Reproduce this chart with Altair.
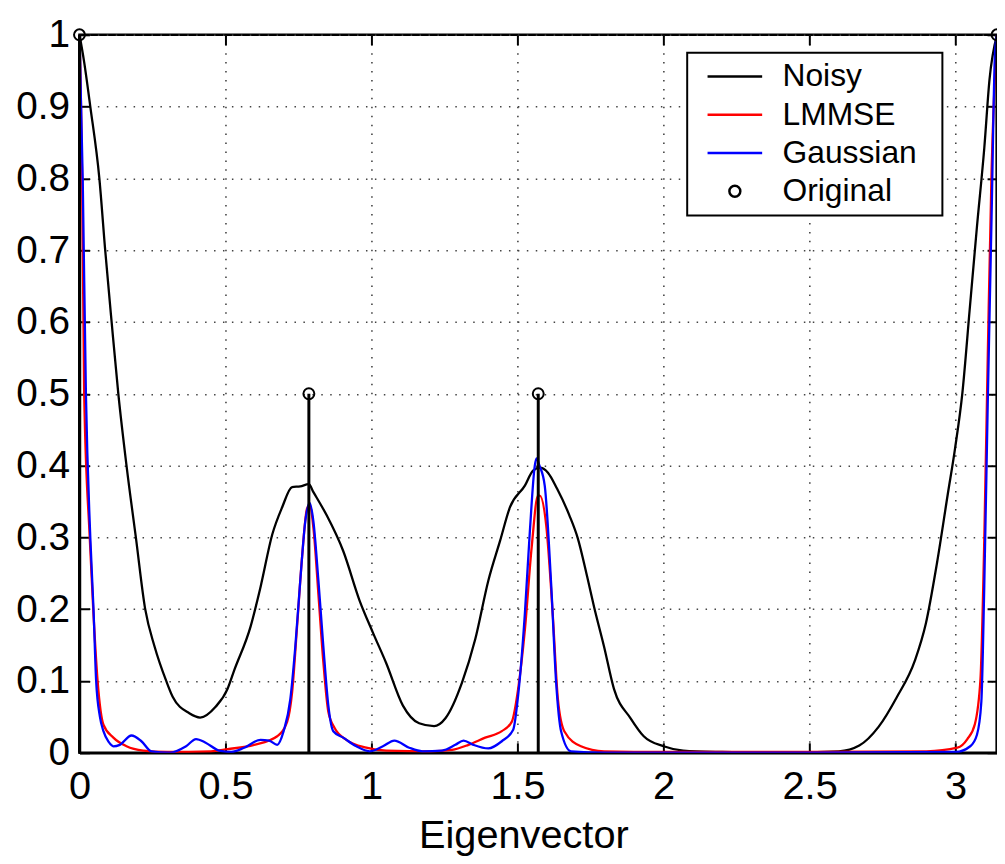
import altair as alt
import pandas as pd

PI = 3.14159

# ---- series ----
NOISY_X = [0.0, 0.016, 0.037, 0.068, 0.088, 0.110, 0.133, 0.161, 0.193, 0.225, 0.257, 0.297,
           0.319, 0.376, 0.413, 0.466, 0.507, 0.530, 0.586, 0.620, 0.660, 0.694, 0.728, 0.756,
           0.785, 0.801, 0.846, 0.903, 0.959, 1.005, 1.050, 1.107, 1.163, 1.214, 1.253, 1.310,
           1.355, 1.400, 1.440, 1.474, 1.525, 1.553, 1.576, 1.604, 1.635, 1.677, 1.706, 1.739,
           1.762, 1.796, 1.830, 1.887, 1.932, 2.000, 2.067, 2.200, 2.400, 2.600, 2.670, 2.736,
           2.798, 2.861, 2.898, 2.936, 2.973, 2.998, 3.023, 3.048, 3.073, 3.098, 3.116, 3.14159]
NOISY_Y = [1.0, 0.962, 0.900, 0.800, 0.700, 0.600, 0.500, 0.400, 0.300, 0.200, 0.148, 0.100,
           0.078, 0.055, 0.049, 0.064, 0.089, 0.115, 0.176, 0.231, 0.304, 0.342, 0.370, 0.371,
           0.374, 0.363, 0.331, 0.281, 0.212, 0.167, 0.125, 0.066, 0.041, 0.037, 0.048, 0.098,
           0.158, 0.240, 0.295, 0.342, 0.372, 0.393, 0.397, 0.390, 0.368, 0.331, 0.299, 0.244,
           0.203, 0.148, 0.089, 0.048, 0.023, 0.009, 0.003, 0.001, 0.000, 0.002, 0.010, 0.036,
           0.077, 0.129, 0.180, 0.264, 0.360, 0.424, 0.501, 0.617, 0.733, 0.842, 0.938, 1.0]

LMMSE_X = [0.0, 0.009, 0.016, 0.035, 0.047, 0.062, 0.082, 0.116, 0.161, 0.218, 0.300, 0.450,
           0.507, 0.598, 0.677, 0.711, 0.728, 0.745, 0.762, 0.779, 0.788, 0.801, 0.818, 0.835,
           0.852, 0.874, 0.914, 0.982, 1.050, 1.200, 1.276, 1.332, 1.389, 1.446, 1.480, 1.502,
           1.525, 1.548, 1.570, 1.576, 1.598, 1.621, 1.638, 1.660, 1.717, 1.796, 2.000, 2.500,
           2.900, 3.006, 3.040, 3.066, 3.085, 3.098, 3.110, 3.123, 3.14159]
LMMSE_Y = [1.0, 0.800, 0.500, 0.300, 0.200, 0.100, 0.039, 0.021, 0.009, 0.003, 0.001, 0.002,
           0.005, 0.011, 0.023, 0.043, 0.084, 0.176, 0.272, 0.340, 0.345, 0.313, 0.221, 0.126,
           0.057, 0.034, 0.018, 0.007, 0.003, 0.002, 0.004, 0.011, 0.021, 0.030, 0.043, 0.089,
           0.171, 0.285, 0.358, 0.358, 0.317, 0.189, 0.075, 0.030, 0.009, 0.002, 0.001, 0.001,
           0.002, 0.007, 0.019, 0.040, 0.103, 0.296, 0.553, 0.810, 1.0]

GAUSS_X = [0.0, 0.011, 0.022, 0.037, 0.048, 0.057, 0.070, 0.082, 0.100, 0.116, 0.138, 0.178,
           0.212, 0.246, 0.308, 0.365, 0.399, 0.432, 0.478, 0.520, 0.564, 0.620, 0.649, 0.677,
           0.699, 0.722, 0.739, 0.756, 0.773, 0.788, 0.801, 0.818, 0.835, 0.852, 0.869, 0.903,
           0.948, 0.993, 1.039, 1.078, 1.129, 1.174, 1.242, 1.287, 1.315, 1.349, 1.400, 1.446,
           1.485, 1.502, 1.525, 1.542, 1.559, 1.565, 1.575, 1.593, 1.615, 1.632, 1.649, 1.683,
           1.800, 2.500, 3.000, 3.050, 3.073, 3.088, 3.098, 3.110, 3.123, 3.135, 3.14159]
GAUSS_Y = [1.0, 0.800, 0.500, 0.300, 0.200, 0.100, 0.050, 0.030, 0.015, 0.009, 0.011, 0.024,
           0.016, 0.002, 0.000, 0.009, 0.019, 0.014, 0.003, 0.001, 0.007, 0.018, 0.017, 0.011,
           0.030, 0.075, 0.148, 0.240, 0.322, 0.348, 0.322, 0.240, 0.148, 0.066, 0.030, 0.021,
           0.009, 0.002, 0.009, 0.017, 0.007, 0.002, 0.003, 0.011, 0.017, 0.011, 0.006, 0.016,
           0.032, 0.080, 0.194, 0.308, 0.400, 0.410, 0.400, 0.372, 0.235, 0.098, 0.030, 0.002,
           0.000, 0.000, 0.001, 0.009, 0.025, 0.071, 0.232, 0.489, 0.746, 0.977, 1.0]

ORIG_X = [0.0, 0.7854, 1.5708, 3.14159]
ORIG_Y = [1.0, 0.5, 0.5, 1.0]

SERIES = ["Noisy", "LMMSE", "Gaussian", "Original"]
COLORS = ["#000000", "#ff0000", "#0000ff", "#000000"]
LINE_SYM = "M-2,0L2,0"
CIRC_SYM = "M0.4,0A0.4,0.4 0 1,1 -0.4,0A0.4,0.4 0 1,1 0.4,0Z"
SHAPES = [LINE_SYM, LINE_SYM, LINE_SYM, CIRC_SYM]

X_TICKS = [0, 0.5, 1, 1.5, 2, 2.5, 3]
Y_TICKS = [0, 0.1, 0.2, 0.3, 0.4, 0.5, 0.6, 0.7, 0.8, 0.9, 1.0]

FONT = "Liberation Sans"

rows = []
for name, xs, ys in [("Noisy", NOISY_X, NOISY_Y), ("LMMSE", LMMSE_X, LMMSE_Y),
                     ("Gaussian", GAUSS_X, GAUSS_Y)]:
    for i, (a, b) in enumerate(zip(xs, ys)):
        rows.append({"series": name, "x": a, "y": b, "order": i})
lines_df = pd.DataFrame(rows)
orig_df = pd.DataFrame({"series": "Original", "x": ORIG_X, "y": ORIG_Y})

xscale = alt.Scale(domain=[0, PI], nice=False, zero=False)
yscale = alt.Scale(domain=[0, 1], nice=False, zero=False)
cscale = alt.Scale(domain=SERIES, range=COLORS)
sscale = alt.Scale(domain=SERIES, range=SHAPES)

grid_common = dict(gridColor="#444444", gridDash=[1.5, 7.5], gridWidth=1.6, gridOpacity=1)

x_main = alt.Axis(orient="bottom", values=X_TICKS, format=".1~f", title="Eigenvector",
                  grid=True, ticks=False, tickSize=0, domain=True, domainColor="black",
                  domainWidth=2.5, labelFont=FONT, labelFontSize=40, labelColor="black",
                  labelPadding=14, labelFlush=False, labelOverlap=False,
                  titleFont=FONT, titleFontSize=40, titleFontWeight="normal",
                  titleColor="black", titleBaseline="alphabetic", titleAlign="center",
                  titleX=447, titleY=95, **grid_common)
y_main = alt.Axis(orient="left", values=Y_TICKS, format=".1~f", title=None,
                  grid=True, ticks=False, tickSize=0, domain=True, domainColor="black",
                  domainWidth=2.5, labelFont=FONT, labelFontSize=39, labelColor="black",
                  labelPadding=10, labelFlush=False, labelOverlap=False, **grid_common)


def tick_axis(orient, values):
    return alt.Axis(orient=orient, values=values, offset=-10, tickSize=10, ticks=True,
                    tickColor="black", tickWidth=2, labels=False, domain=False,
                    grid=False, title=None)


legend = alt.Legend(title=None, orient="none", legendX=612, legendY=18,
                    labelExpr="datum.label + '\u00a0\u00a0\u200b'")

lines = alt.Chart(lines_df).mark_line(strokeWidth=2.3, clip=True, interpolate="monotone").encode(
    x=alt.X("x:Q", scale=xscale, axis=x_main),
    y=alt.Y("y:Q", scale=yscale, axis=y_main),
    color=alt.Color("series:N", scale=cscale, legend=legend),
    order="order:Q",
    detail="series:N",
)

stems = alt.Chart(orig_df).mark_rule(strokeWidth=3, color="black").encode(
    x=alt.X("x:Q", scale=xscale, axis=tick_axis("bottom", X_TICKS)),
    y=alt.Y("y:Q", scale=yscale, axis=tick_axis("left", Y_TICKS)),
    y2=alt.datum(0),
)

points = alt.Chart(orig_df).mark_point(filled=False, size=756, strokeWidth=2, opacity=1).encode(
    x=alt.X("x:Q", scale=xscale, axis=tick_axis("top", X_TICKS)),
    y=alt.Y("y:Q", scale=yscale, axis=tick_axis("right", Y_TICKS)),
    color=alt.Color("series:N", scale=cscale, legend=legend),
    shape=alt.Shape("series:N", scale=sscale, legend=legend),
)

chart = (
    alt.layer(lines, stems, points)
    .resolve_axis(x="independent", y="independent")
    .properties(
        width=924,
        height=723,
        autosize=alt.AutoSizeParams(type="none"),
        padding={"left": 72, "top": 24, "right": 0, "bottom": 101},
        background="white",
    )
    .configure_view(stroke="black", strokeWidth=2.5)
    .configure_legend(
        labelFont=FONT, labelFontSize=32, labelColor="black", padding=8, rowPadding=6.5,
        symbolOffset=24, labelOffset=32, strokeColor="black", strokeWidth=2,
        fillColor="white", symbolStrokeWidth=2.5, symbolSize=756,
    )
)

chart.save("out.html", embed_options={"renderer": "svg", "actions": False})
